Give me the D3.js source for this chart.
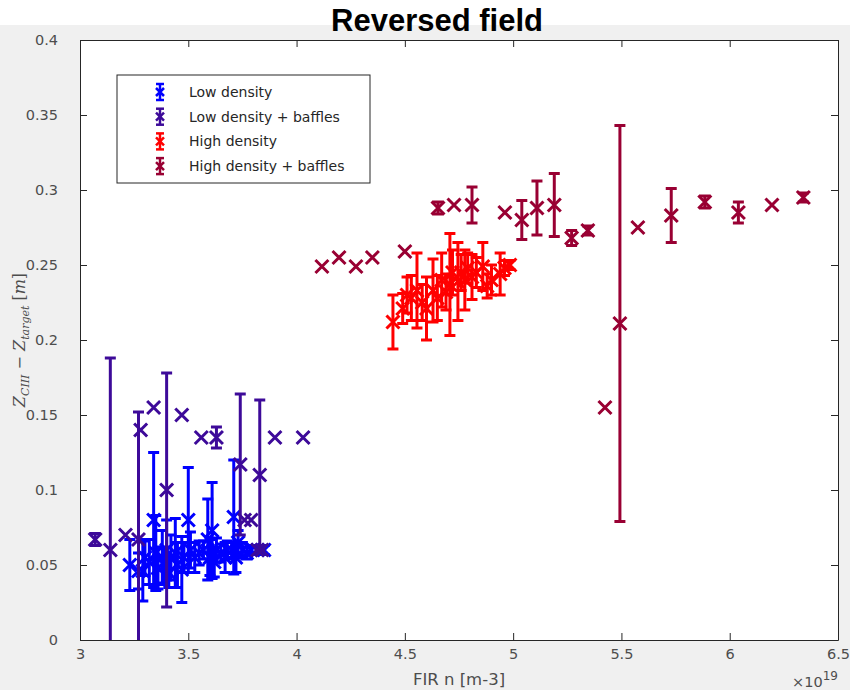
<!DOCTYPE html>
<html>
<head>
<meta charset="utf-8">
<script src="https://cdn.jsdelivr.net/npm/d3@7"></script>
<style>
  html, body { margin: 0; padding: 0; background: #ffffff; }
  svg { display: block; }
</style>
</head>
<body>
<svg id="chart" width="850" height="690"></svg>
<script>
// Density in units of 1e19 m^-3, offset in m, symmetric error in m: [n, dz, err]
const lowDensity = [
  [3.23, 0.050, 0.017], [3.27, 0.046, 0.012], [3.29, 0.046, 0.020], [3.30, 0.055, 0.012],
  [3.32, 0.052, 0.015], [3.34, 0.080, 0.045], [3.35, 0.058, 0.025], [3.36, 0.048, 0.014],
  [3.38, 0.055, 0.018], [3.39, 0.050, 0.012], [3.40, 0.060, 0.020], [3.41, 0.045, 0.010],
  [3.42, 0.055, 0.015], [3.44, 0.058, 0.023], [3.45, 0.050, 0.015], [3.47, 0.047, 0.022],
  [3.48, 0.055, 0.010], [3.50, 0.080, 0.035], [3.51, 0.060, 0.012], [3.53, 0.055, 0.010],
  [3.55, 0.058, 0.008], [3.57, 0.060, 0.006], [3.59, 0.067, 0.027], [3.60, 0.055, 0.012],
  [3.61, 0.073, 0.032], [3.62, 0.052, 0.010], [3.63, 0.060, 0.008], [3.65, 0.058, 0.006],
  [3.67, 0.055, 0.010], [3.68, 0.060, 0.006], [3.70, 0.060, 0.005], [3.71, 0.082, 0.038],
  [3.72, 0.055, 0.010], [3.73, 0.065, 0.008], [3.75, 0.060, 0.005], [3.77, 0.058, 0.004],
  [3.79, 0.060, 0.003], [3.82, 0.060, 0.003], [3.85, 0.060, 0.003]
];
const lowDensityBaffles = [
  [3.07, 0.067, 0.004], [3.14, 0.060, 0.128], [3.21, 0.070, 0], [3.27, 0.067, 0.085],
  [3.28, 0.140, 0], [3.34, 0.155, 0], [3.40, 0.100, 0.078], [3.47, 0.150, 0],
  [3.56, 0.135, 0], [3.63, 0.135, 0.007], [3.74, 0.117, 0.047], [3.76, 0.080, 0],
  [3.79, 0.080, 0], [3.83, 0.110, 0.050], [3.82, 0.060, 0], [3.84, 0.060, 0],
  [3.90, 0.135, 0], [4.03, 0.135, 0]
];
const highDensity = [
  [4.445, 0.212, 0.018], [4.49, 0.221, 0.010], [4.51, 0.230, 0.012], [4.53, 0.228, 0.015],
  [4.556, 0.233, 0.025], [4.58, 0.225, 0.012], [4.60, 0.221, 0.021], [4.63, 0.233, 0.021],
  [4.65, 0.228, 0.015], [4.67, 0.240, 0.018], [4.69, 0.232, 0.012], [4.708, 0.237, 0.034],
  [4.72, 0.245, 0.015], [4.745, 0.239, 0.026], [4.76, 0.245, 0.012], [4.777, 0.240, 0.020],
  [4.79, 0.248, 0.010], [4.81, 0.242, 0.015], [4.83, 0.245, 0.010], [4.86, 0.249, 0.016],
  [4.88, 0.236, 0.008], [4.90, 0.240, 0.010], [4.94, 0.244, 0.014], [4.96, 0.248, 0.005],
  [4.985, 0.250, 0.003]
];
const highDensityBaffles = [
  [4.117, 0.249, 0], [4.196, 0.255, 0], [4.274, 0.249, 0], [4.35, 0.255, 0],
  [4.50, 0.259, 0], [4.653, 0.288, 0.004], [4.727, 0.290, 0], [4.81, 0.290, 0.012],
  [4.962, 0.285, 0], [5.04, 0.280, 0.013], [5.11, 0.288, 0.018], [5.19, 0.290, 0.021],
  [5.27, 0.268, 0.005], [5.345, 0.273, 0.003], [5.424, 0.155, 0], [5.493, 0.211, 0.132],
  [5.576, 0.275, 0], [5.73, 0.283, 0.018], [5.885, 0.292, 0.004], [6.04, 0.285, 0.007],
  [6.195, 0.290, 0], [6.34, 0.295, 0.003]
];

const seriesNames = ["Low density", "Low density + baffles", "High density", "High density + baffles"];
const seriesColors = ["#0000ff", "#3d0a99", "#ff0000", "#990033"];
const seriesData = [lowDensity, lowDensityBaffles, highDensity, highDensityBaffles];

const xTicks = [3, 3.5, 4, 4.5, 5, 5.5, 6, 6.5];
const yTicks = [0, 0.05, 0.1, 0.15, 0.2, 0.25, 0.3, 0.35, 0.4];

const W = 850, H = 690;
const plot = { left: 80, right: 838, top: 40, bottom: 640 };
const axisColor = "#262626";
const labelColor = "#4d4d4d";

const svg = d3.select("#chart");

// figure background
svg.append("rect").attr("x", 0).attr("y", 0).attr("width", W).attr("height", H).attr("fill", "#f0f0f0");
svg.append("rect").attr("x", 0).attr("y", 0).attr("width", W).attr("height", 25).attr("fill", "#ffffff");

const x = d3.scaleLinear().domain([3, 6.5]).range([plot.left, plot.right]);
const y = d3.scaleLinear().domain([0, 0.4]).range([plot.bottom, plot.top]);

// plot area
svg.append("rect")
  .attr("x", plot.left).attr("y", plot.top)
  .attr("width", plot.right - plot.left).attr("height", plot.bottom - plot.top)
  .attr("fill", "#ffffff");

svg.append("clipPath").attr("id", "plotClip")
  .append("rect")
  .attr("x", plot.left).attr("y", plot.top)
  .attr("width", plot.right - plot.left).attr("height", plot.bottom - plot.top);

// error bars and markers
const marks = svg.append("g").attr("clip-path", "url(#plotClip)");
const capHalf = 5.5, xHalf = 6.5;

seriesData.forEach((data, i) => {
  const color = seriesColors[i];
  const g = marks.append("g").attr("stroke", color).attr("fill", "none");
  const withErr = data.filter(d => d[2] > 0);

  g.selectAll("line.bar").data(withErr).join("line")
    .attr("class", "bar")
    .attr("x1", d => x(d[0])).attr("x2", d => x(d[0]))
    .attr("y1", d => y(d[1] - d[2])).attr("y2", d => y(d[1] + d[2]))
    .attr("stroke-width", 3);

  g.selectAll("line.capLo").data(withErr).join("line")
    .attr("class", "capLo")
    .attr("x1", d => x(d[0]) - capHalf).attr("x2", d => x(d[0]) + capHalf)
    .attr("y1", d => y(d[1] - d[2])).attr("y2", d => y(d[1] - d[2]))
    .attr("stroke-width", 3);

  g.selectAll("line.capHi").data(withErr).join("line")
    .attr("class", "capHi")
    .attr("x1", d => x(d[0]) - capHalf).attr("x2", d => x(d[0]) + capHalf)
    .attr("y1", d => y(d[1] + d[2])).attr("y2", d => y(d[1] + d[2]))
    .attr("stroke-width", 3);

  g.selectAll("path.mark").data(data).join("path")
    .attr("class", "mark")
    .attr("d", d => {
      const cx = x(d[0]), cy = y(d[1]);
      return `M${cx - xHalf},${cy - xHalf}L${cx + xHalf},${cy + xHalf}M${cx - xHalf},${cy + xHalf}L${cx + xHalf},${cy - xHalf}`;
    })
    .attr("stroke-width", 3);
});

// axes: ticks pointing inward on all four sides
const fmt = d3.format("~g");
const tickFont = "DejaVu Sans, sans-serif";

const xAxis = svg.append("g").attr("transform", `translate(0,${plot.bottom})`)
  .call(d3.axisBottom(x).tickValues(xTicks).tickFormat(fmt).tickSizeInner(-7).tickSizeOuter(0).tickPadding(9));
const xAxisTop = svg.append("g").attr("transform", `translate(0,${plot.top})`)
  .call(d3.axisTop(x).tickValues(xTicks).tickFormat("").tickSizeInner(-7).tickSizeOuter(0));
const yAxis = svg.append("g").attr("transform", `translate(${plot.left},0)`)
  .call(d3.axisLeft(y).tickValues(yTicks).tickFormat(fmt).tickSizeInner(-7).tickSizeOuter(0).tickPadding(22));
const yAxisRight = svg.append("g").attr("transform", `translate(${plot.right},0)`)
  .call(d3.axisRight(y).tickValues(yTicks).tickFormat("").tickSizeInner(-7).tickSizeOuter(0));

[xAxis, xAxisTop, yAxis, yAxisRight].forEach(a => {
  a.select(".domain").attr("stroke", axisColor).attr("stroke-width", 1);
  a.selectAll(".tick line").attr("stroke", axisColor).attr("stroke-width", 1);
  a.selectAll(".tick text")
    .attr("fill", labelColor)
    .style("font-family", tickFont)
    .style("font-size", "14.5px");
});

// title
svg.append("text")
  .attr("x", 437).attr("y", 31)
  .attr("text-anchor", "middle")
  .style("font-family", "Liberation Sans, Arial, sans-serif")
  .style("font-weight", "bold")
  .style("font-size", "31px")
  .attr("fill", "#000000")
  .text("Reversed field");

// x axis label and exponent
svg.append("text")
  .attr("x", (plot.left + plot.right) / 2).attr("y", 685)
  .attr("text-anchor", "middle")
  .style("font-family", tickFont)
  .style("font-size", "16.5px")
  .attr("fill", labelColor)
  .text("FIR n [m-3]");

const expo = svg.append("text")
  .attr("x", plot.right).attr("y", 687)
  .attr("text-anchor", "end")
  .style("font-family", tickFont)
  .style("font-size", "14.5px")
  .attr("fill", labelColor);
expo.append("tspan").text("\u00d710");
expo.append("tspan").attr("dy", -7).style("font-size", "12px").text("19");

// y axis label (math style)
const yl = svg.append("text")
  .attr("transform", `translate(25,${(plot.top + plot.bottom) / 2}) rotate(-90)`)
  .attr("text-anchor", "middle")
  .style("font-family", "DejaVu Serif, serif")
  .style("font-size", "16px")
  .attr("fill", labelColor);
yl.append("tspan").style("font-style", "italic").text("Z");
yl.append("tspan").style("font-style", "italic").style("font-size", "11px").attr("dy", 4).text("CIII");
yl.append("tspan").attr("dy", -4).text(" \u2212 ");
yl.append("tspan").style("font-style", "italic").text("Z");
yl.append("tspan").style("font-style", "italic").style("font-size", "11px").attr("dy", 4).text("target");
yl.append("tspan").attr("dy", -4).text(" [");
yl.append("tspan").style("font-style", "italic").text("m");
yl.append("tspan").text("]");

// legend
const legend = svg.append("g");
legend.append("rect")
  .attr("x", 117).attr("y", 75).attr("width", 253).attr("height", 108)
  .attr("fill", "#ffffff").attr("stroke", axisColor).attr("stroke-width", 1);

seriesNames.forEach((name, i) => {
  const cy = 92 + i * 24.7, cx = 160;
  const g = legend.append("g").attr("stroke", seriesColors[i]).attr("stroke-width", 2.5);
  g.append("line").attr("x1", cx).attr("x2", cx).attr("y1", cy - 8).attr("y2", cy + 8);
  g.append("line").attr("x1", cx - 4).attr("x2", cx + 4).attr("y1", cy - 8).attr("y2", cy - 8);
  g.append("line").attr("x1", cx - 4).attr("x2", cx + 4).attr("y1", cy + 8).attr("y2", cy + 8);
  g.append("path").attr("d", `M${cx - 4},${cy - 4}L${cx + 4},${cy + 4}M${cx - 4},${cy + 4}L${cx + 4},${cy - 4}`)
    .attr("fill", "none");
  legend.append("text")
    .attr("x", 189).attr("y", cy)
    .attr("dy", "0.35em")
    .style("font-family", tickFont)
    .style("font-size", "14px")
    .attr("fill", axisColor)
    .text(name);
});
</script>
</body>
</html>
